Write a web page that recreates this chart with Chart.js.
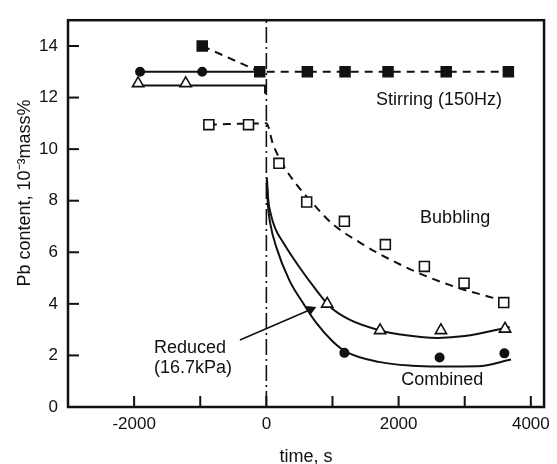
<!DOCTYPE html>
<html>
<head>
<meta charset="utf-8">
<script src="https://cdn.jsdelivr.net/npm/chart.js@4.4.1/dist/chart.umd.min.js"></script>
<style>
  html, body { margin: 0; padding: 0; background: #fff; }
  canvas { display: block; }
</style>
</head>
<body>
<canvas id="pbChart" width="557" height="464"></canvas>
<script>
// measured points (time in s, Pb in 10^-3 mass%)
var stirT = [-970, -100, 620, 1190, 1840, 2720, 3660];
var stirPb = [14.0, 13.0, 13.0, 13.0, 13.0, 13.0, 13.0];

var bubT = [-870, -270, 190, 610, 1180, 1800, 2390, 2990, 3590];
var bubPb = [10.95, 10.95, 9.45, 7.95, 7.2, 6.3, 5.45, 4.8, 4.05];

var redT = [-1940, -1220, 920, 1720, 2640, 3610];
var redPb = [12.55, 12.55, 4.0, 2.97, 2.97, 3.03];

var combT = [-1910, -970, 1180, 2620, 3600];
var combPb = [13.0, 13.0, 2.1, 1.92, 2.08];

// fitted curves
var bubFitT = [-870, 0, 100, 250, 450, 700, 1000, 1400, 1700, 2300, 2900, 3500, 3650];
var bubFitPb = [10.95, 11.0, 10.2, 9.4, 8.65, 7.9, 7.1, 6.4, 5.95, 5.2, 4.62, 4.18, 4.05];

var redPreT = [-1940, -20, -20];
var redPrePb = [12.47, 12.47, 12.15];
var redFitT = [8, 30, 70, 130, 250, 500, 750, 950, 1250, 1750, 2000, 2600, 3000, 3680];
var redFitPb = [8.9, 8.0, 7.45, 6.95, 6.4, 5.42, 4.55, 3.92, 3.4, 2.95, 2.82, 2.68, 2.75, 3.1];

var combPreT = [-1910, -20];
var combPrePb = [13.0, 13.0];
var combFitT = [5, 25, 60, 150, 350, 550, 750, 1000, 1200, 1700, 2200, 2600, 3200, 3700];
var combFitPb = [8.8, 7.8, 7.1, 6.2, 4.9, 4.05, 3.28, 2.55, 2.15, 1.75, 1.6, 1.57, 1.58, 1.84];

var startT = [0, 0];
var startPb = [0, 15];

var arrowT = [-400, 670];
var arrowPb = [2.6, 3.78];

var xTickVals = [-2000, -1000, 0, 1000, 2000, 3000, 4000];
var xTickLabels = [-2000, 0, 2000, 4000];
var yTickVals = [0, 2, 4, 6, 8, 10, 12, 14];

function pts(xs, ys) {
    return xs.map(function (x, i) { return {x: x, y: ys[i]}; });
}

var ink = '#111';
var fontName = '"Liberation Sans", Arial, sans-serif';

function lineSet(xs, ys, dash, smooth) {
    return {
        data: pts(xs, ys),
        showLine: true,
        borderColor: ink,
        borderWidth: 2,
        borderDash: dash,
        pointRadius: 0,
        cubicInterpolationMode: smooth ? 'monotone' : 'default',
        tension: 0,
    };
}

function markSet(xs, ys, style, radius, filled) {
    return {
        data: pts(xs, ys),
        showLine: false,
        pointStyle: style,
        pointRadius: radius,
        pointBorderWidth: 1.6,
        pointBorderColor: ink,
        pointBackgroundColor: filled ? ink : '#fff',
    };
}

// inward ticks, frame, y title and the curve labels
var framePlugin = {
    id: 'frame',
    afterDraw: function (chart) {
        var c = chart.ctx, a = chart.chartArea;
        var xs = chart.scales.x, ys = chart.scales.y;
        c.save();
        c.strokeStyle = ink;
        c.lineWidth = 2;
        xs.ticks.forEach(function (t) {
            var px = xs.getPixelForValue(t.value);
            c.beginPath();
            c.moveTo(px, a.bottom);
            c.lineTo(px, a.bottom - 11);
            c.stroke();
        });
        ys.ticks.forEach(function (t) {
            var py = ys.getPixelForValue(t.value);
            if (py >= a.bottom - 1) return;
            c.beginPath();
            c.moveTo(a.left, py);
            c.lineTo(a.left + 11, py);
            c.stroke();
        });
        c.lineWidth = 2.5;
        c.strokeRect(a.left, a.top, a.right - a.left, a.bottom - a.top);

        c.fillStyle = ink;
        c.font = '18px ' + fontName;
        c.textBaseline = 'middle';
        var notes = [
            ['Stirring (150Hz)', 2610, 11.9, 'center'],
            ['Bubbling', 2855, 7.32, 'center'],
            ['Combined', 2661, 1.06, 'center'],
            ['Reduced', -1700, 2.3, 'left'],
            ['(16.7kPa)', -1700, 1.5, 'left'],
        ];
        notes.forEach(function (n) {
            c.textAlign = n[3];
            c.fillText(n[0], xs.getPixelForValue(n[1]), ys.getPixelForValue(n[2]));
        });

        c.translate(25, 193);
        c.rotate(-Math.PI / 2);
        c.textAlign = 'center';
        c.fillText('Pb content, 10\u207B\u00B3mass%', 0, 0);
        c.restore();
    }
};

var pbChartCanvas = document.getElementById('pbChart').getContext('2d');
var pbChart = new Chart(pbChartCanvas, {
    type: 'scatter',
    data: {
        datasets: [
            markSet(stirT, stirPb, 'rect', 7, true),
            markSet(bubT, bubPb, 'rect', 7, false),
            markSet(redT, redPb, 'triangle', 6.5, false),
            markSet(combT, combPb, 'circle', 4.2, true),
            lineSet(stirT, stirPb, [8, 6], false),
            lineSet(bubFitT, bubFitPb, [8, 6], true),
            lineSet(redPreT, redPrePb, [], false),
            lineSet(redFitT, redFitPb, [], true),
            lineSet(combPreT, combPrePb, [], false),
            lineSet(combFitT, combFitPb, [], true),
            Object.assign(lineSet(startT, startPb, [16, 4, 2, 4], false), {borderWidth: 1.6}),
            {
                data: pts(arrowT, arrowPb),
                showLine: true,
                borderColor: ink,
                borderWidth: 1.6,
                pointStyle: 'triangle',
                pointRadius: [0, 4.5],
                pointRotation: [0, 66],
                pointBackgroundColor: ink,
                pointBorderColor: ink,
            },
        ],
    },
    options: {
        responsive: false,
        animation: false,
        layout: {padding: {top: 10, right: 9, left: 0, bottom: 0}},
        plugins: {
            legend: {display: false},
            tooltip: {enabled: false},
        },
        scales: {
            x: {
                type: 'linear',
                min: -3000,
                max: 4200,
                grid: {display: false, drawTicks: false},
                border: {display: false},
                afterBuildTicks: function (s) {
                    s.ticks = xTickVals.map(function (v) { return {value: v}; });
                },
                ticks: {
                    autoSkip: false,
                    maxRotation: 0,
                    padding: 7,
                    color: ink,
                    font: {family: fontName, size: 17},
                    callback: function (v) { return xTickLabels.indexOf(v) >= 0 ? String(v) : ''; },
                },
                title: {
                    display: true,
                    text: 'time, s',
                    color: ink,
                    font: {family: fontName, size: 18},
                    padding: {top: 0, bottom: -4},
                },
                afterFit: function (s) { s.height = 57; },
            },
            y: {
                type: 'linear',
                min: 0,
                max: 15,
                grid: {display: false, drawTicks: false},
                border: {display: false},
                afterBuildTicks: function (s) {
                    s.ticks = yTickVals.map(function (v) { return {value: v}; });
                },
                ticks: {
                    padding: 10,
                    color: ink,
                    font: {family: fontName, size: 17},
                    callback: function (v) { return String(v); },
                },
                afterFit: function (s) { s.width = 68; },
            },
        },
    },
    plugins: [framePlugin],
});
</script>
</body>
</html>
